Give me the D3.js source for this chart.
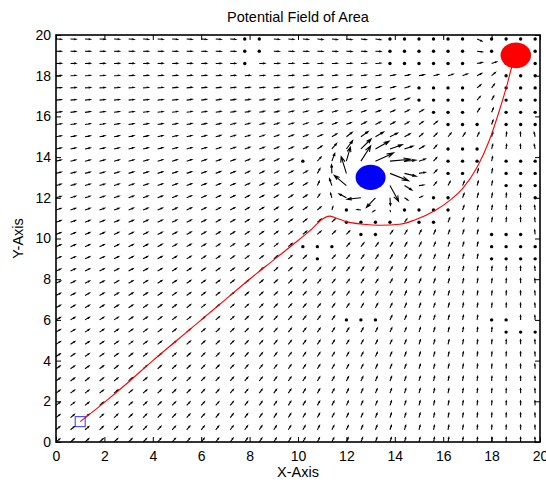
<!DOCTYPE html>
<html>
<head>
<meta charset="utf-8">
<script src="https://cdn.jsdelivr.net/npm/d3@7"></script>
<style>
  body { margin: 0; background: #fff; }
  svg text { font-family: "Liberation Sans", Arial, Helvetica, sans-serif; fill: #000; }
</style>
</head>
<body>
<svg id="chart" width="546" height="483"></svg>
<script>
// Axis ticks
const xTicks = [0, 2, 4, 6, 8, 10, 12, 14, 16, 18, 20];
const yTicks = [0, 2, 4, 6, 8, 10, 12, 14, 16, 18, 20];

// Sample grid of the field (0 : 0.6 : 19.8 in both directions)
const gridStep = 0.6;
const gridCount = 34;

// Start, goal and obstacle
const startPoint = [1, 1];
const goalPoint = [19, 19];
const goalRadius = 0.63;
const obstaclePoint = [13, 13];
const obstacleRadius = 0.62;

// Field parameters: unit pull towards the goal, swirling push away from the obstacle
const repulseGain = 6;
const repulseRange = 2.8;
const swirlDegrees = 50;
const arrowScale = 0.22;
const arrowMax = 0.85;

// Grid nodes where the field vanishes (drawn as dots): row index -> column indices
const zeroRows = [
  [33, [13, 14, 23, 24, 25, 26, 27, 28, 30, 31, 32, 33]],
  [32, [13, 14, 23, 24, 25, 26, 27, 28, 30, 31, 32, 33]],
  [31, [13, 23, 24, 25, 26, 27, 28, 31, 32, 33]],
  [30, [31, 32, 33]],
  [29, [25, 26, 27, 28, 31, 32, 33]],
  [28, [25, 26, 27, 28, 31, 32, 33]],
  [27, [26, 27, 28, 31, 32, 33]],
  [26, [27, 28, 29, 31, 32, 33]],
  [24, [27, 28, 29]],
  [23, [17, 27, 28, 29, 31, 32, 33]],
  [22, [27, 28, 31, 32, 33]],
  [21, [31, 32, 33]],
  [20, [26, 27, 33]],
  [19, [20, 24, 25, 26, 27]],
  [18, [20, 21, 22, 23, 25, 26]],
  [17, [21, 22, 30, 31, 32]],
  [16, [17, 18, 19, 30, 31, 32, 33]],
  [15, [18, 30, 31, 32, 33]],
  [10, [20, 21, 22, 30, 31]],
  [9,  [31, 32, 33]]
];

// Path followed by the robot
const pathX = [1, 2, 3, 4, 5, 6, 7, 8, 9, 10, 10.6, 11.0, 11.3, 11.6, 12.0, 12.7, 13.4, 14.2, 14.8, 15.7, 16.3, 16.8, 17.4, 17.9, 18.35, 18.65, 18.85, 19.0];
const pathY = [1, 1.95, 2.95, 4.0, 5.0, 6.0, 7.0, 8.0, 8.95, 9.9, 10.5, 10.95, 11.1, 11.0, 10.83, 10.7, 10.65, 10.7, 10.9, 11.4, 11.9, 12.45, 13.5, 14.8, 16.4, 17.6, 18.5, 19.0];

const margin = { left: 56, top: 35, right: 6, bottom: 41 };
const W = 546, H = 483;
const svg = d3.select("#chart");

const x = d3.scaleLinear().domain([0, 20]).range([margin.left, W - margin.right]);
const y = d3.scaleLinear().domain([0, 20]).range([H - margin.bottom, margin.top]);

const plot = svg.append("g");
svg.append("defs").append("clipPath").attr("id", "plotClip")
  .append("rect")
  .attr("x", x(0)).attr("y", y(20))
  .attr("width", x(20) - x(0)).attr("height", y(0) - y(20));

// ---- quiver field ----
const zeroSet = new Set();
zeroRows.forEach(([j, cols]) => cols.forEach(i => zeroSet.add(i + "," + j)));

const theta = swirlDegrees * Math.PI / 180;
const arrows = [], dots = [];
for (let j = 0; j < gridCount; j++) {
  for (let i = 0; i < gridCount; i++) {
    const px = i * gridStep, py = j * gridStep;
    const ox = px - obstaclePoint[0], oy = py - obstaclePoint[1];
    const d = Math.hypot(ox, oy);
    if (d < 0.7) continue; // covered by the obstacle
    if (zeroSet.has(i + "," + j)) { dots.push([px, py]); continue; }
    const gx = goalPoint[0] - px, gy = goalPoint[1] - py;
    const gd = Math.hypot(gx, gy) || 1;
    let u = gx / gd, v = gy / gd;
    if (d < repulseRange) {
      const m = repulseGain * (1 / d - 1 / repulseRange);
      const rx = ox / d, ry = oy / d;
      // radial push turned clockwise
      const sx = rx * Math.cos(theta) + ry * Math.sin(theta);
      const sy = -rx * Math.sin(theta) + ry * Math.cos(theta);
      u += m * sx; v += m * sy;
    }
    const n = Math.hypot(u, v) || 1;
    let len = n * arrowScale;
    if (len > arrowMax) len = arrowMax;
    arrows.push({ px, py, u: u / n * len, v: v / n * len });
  }
}

const alpha = 0.33, beta = 0.33;
function arrowPath(a) {
  const tx = a.px + a.u, ty = a.py + a.v;
  const h1x = tx - alpha * (a.u + beta * a.v), h1y = ty - alpha * (a.v - beta * a.u);
  const h2x = tx - alpha * (a.u - beta * a.v), h2y = ty - alpha * (a.v + beta * a.u);
  return `M${x(a.px)},${y(a.py)}L${x(tx)},${y(ty)}` +
         `M${x(h1x)},${y(h1y)}L${x(tx)},${y(ty)}L${x(h2x)},${y(h2y)}`;
}

const field = plot.append("g").attr("clip-path", "url(#plotClip)");
field.selectAll("path.arrow").data(arrows).join("path")
  .attr("class", "arrow")
  .attr("d", arrowPath)
  .attr("fill", "none")
  .attr("stroke", "#000")
  .attr("stroke-width", 1.1);
field.selectAll("circle.zero").data(dots).join("circle")
  .attr("class", "zero")
  .attr("cx", d => x(d[0])).attr("cy", d => y(d[1]))
  .attr("r", 1.7)
  .attr("fill", "#000");

// ---- path ----
const pathData = pathX.map((v, k) => [v, pathY[k]]);
plot.append("path")
  .datum(pathData)
  .attr("d", d3.line().x(d => x(d[0])).y(d => y(d[1])).curve(d3.curveMonotoneX))
  .attr("fill", "none")
  .attr("stroke", "#ff0000")
  .attr("stroke-width", 1.1);

// ---- obstacle and goal ----
plot.append("ellipse")
  .attr("cx", x(obstaclePoint[0])).attr("cy", y(obstaclePoint[1]))
  .attr("rx", x(obstacleRadius) - x(0)).attr("ry", y(0) - y(obstacleRadius))
  .attr("fill", "#0000ff");
plot.append("ellipse")
  .attr("cx", x(goalPoint[0])).attr("cy", y(goalPoint[1]))
  .attr("rx", x(goalRadius) - x(0)).attr("ry", y(0) - y(goalRadius))
  .attr("fill", "#ff0000");

// ---- start marker ----
plot.append("rect")
  .attr("x", x(startPoint[0]) - 5).attr("y", y(startPoint[1]) - 5)
  .attr("width", 10).attr("height", 10)
  .attr("fill", "none")
  .attr("stroke", "#3333ff")
  .attr("stroke-width", 1);

// ---- axes (ticks inside, mirrored on all sides) ----
function styleAxis(g) {
  g.select(".domain").remove();
  g.selectAll(".tick line").attr("stroke", "#000").attr("stroke-width", 1);
  g.selectAll(".tick text").style("font-size", "14px");
}
svg.append("g").attr("transform", `translate(0,${y(0)})`)
  .call(d3.axisBottom(x).tickValues(xTicks).tickSize(-5).tickPadding(9).tickFormat(d3.format("d")))
  .call(styleAxis);
svg.append("g").attr("transform", `translate(${x(0)},0)`)
  .call(d3.axisLeft(y).tickValues(yTicks).tickSize(-5).tickPadding(5).tickFormat(d3.format("d")))
  .call(styleAxis);
svg.append("g").attr("transform", `translate(0,${y(20)})`)
  .call(d3.axisTop(x).tickValues(xTicks).tickSize(-5).tickFormat(""))
  .call(styleAxis);
svg.append("g").attr("transform", `translate(${x(20)},0)`)
  .call(d3.axisRight(y).tickValues(yTicks).tickSize(-5).tickFormat(""))
  .call(styleAxis);

svg.append("rect")
  .attr("x", x(0)).attr("y", y(20))
  .attr("width", x(20) - x(0)).attr("height", y(0) - y(20))
  .attr("fill", "none").attr("stroke", "#000").attr("stroke-width", 1.6);

// ---- titles ----
svg.append("text")
  .attr("x", (x(0) + x(20)) / 2).attr("y", 22)
  .attr("text-anchor", "middle").style("font-size", "14.5px")
  .text("Potential Field of Area");
svg.append("text")
  .attr("x", (x(0) + x(20)) / 2).attr("y", 477)
  .attr("text-anchor", "middle").style("font-size", "14.5px")
  .text("X-Axis");
svg.append("text")
  .attr("transform", `translate(23,${(y(0) + y(20)) / 2}) rotate(-90)`)
  .attr("text-anchor", "middle").style("font-size", "14.5px")
  .text("Y-Axis");
</script>
</body>
</html>
